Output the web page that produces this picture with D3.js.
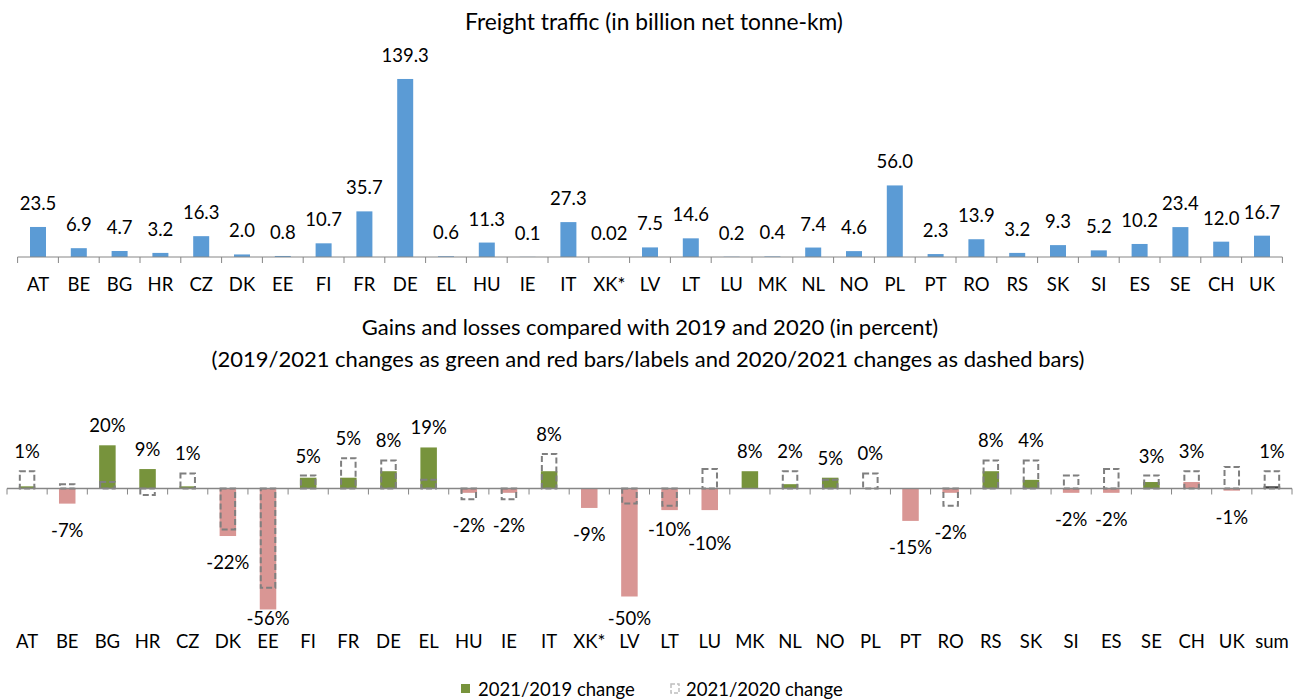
<!DOCTYPE html>
<html><head><meta charset="utf-8">
<script src="https://cdn.jsdelivr.net/npm/d3@7"></script>
<style>body{margin:0;background:#fff}svg{display:block}text{font-family:Lato,"Liberation Sans",sans-serif;fill:#000}</style>
</head><body><svg id="c" width="1296" height="700"></svg>
<script>
const countries = ["AT","BE","BG","HR","CZ","DK","EE","FI","FR","DE","EL","HU","IE","IT","XK*","LV","LT","LU","MK","NL","NO","PL","PT","RO","RS","SK","SI","ES","SE","CH","UK"];
const freight = [23.5,6.9,4.7,3.2,16.3,2.0,0.8,10.7,35.7,139.3,0.6,11.3,0.1,27.3,0.02,7.5,14.6,0.2,0.4,7.4,4.6,56.0,2.3,13.9,3.2,9.3,5.2,10.2,23.4,12.0,16.7];
const changeCats = countries.concat(["sum"]);
const change2019 = [1,-7,20,9,1,-22,-56,5,5,8,19,-2,-2,8,-9,-50,-10,-10,8,2,5,0,-15,-2,8,4,-2,-2,3,3,-1,1];
const change2020 = [8,2,3,-3,7,-19,-46,6,14,13,4,-5,-5,16,null,-7,-8,9,null,8,4,7,null,-8,13,13,6,9,6,8,10,8];
const title1 = "Freight traffic (in billion net tonne-km)";
const title2a = "Gains and losses compared with 2019 and 2020 (in percent)";
const title2b = "(2019/2021 changes as green and red bars/labels and 2020/2021 changes as dashed bars)";
const legendLabels = ["2021/2019 change","2021/2020 change"];

const svg = d3.select("#c");
const FS = 18.5, TFS = 22;
const axisCol = "#868686";

// ---------- Top chart ----------
const x1 = d3.scaleBand().domain(countries).range([17.6,1282.4]).padding(0);
const y1 = d3.scaleLinear().domain([0,150]).range([257,257-150*1.278]);
const bw1 = 16;
const g1 = svg.append("g");
g1.append("text").attr("x",654).attr("y",30).attr("text-anchor","middle").style("font-size",(TFS+0.8)+"px").text(title1);
g1.selectAll("rect.f").data(freight).join("rect").attr("class","f")
  .attr("x",(d,i)=>x1(countries[i])+x1.bandwidth()/2-bw1/2)
  .attr("width",bw1)
  .attr("y",d=>y1(d)).attr("height",d=>y1(0)-y1(d))
  .attr("fill","#5b9bd5");
g1.selectAll("text.v").data(freight).join("text").attr("class","v")
  .attr("x",(d,i)=>x1(countries[i])+x1.bandwidth()/2)
  .attr("y",d=>y1(d)-17).attr("text-anchor","middle").style("font-size",FS+"px")
  .text(d=>d<0.1?d.toFixed(2):d.toFixed(1));
const ax1 = d3.axisBottom(x1).tickSize(0).tickPadding(0);
const a1 = g1.append("g").attr("transform","translate(0,257)").call(ax1);
a1.select(".domain").attr("stroke",axisCol).attr("d","M17.6,0H1282.4");
a1.selectAll(".tick text").attr("dy",null).attr("y",34).style("font-size",FS+"px").style("font-family","Lato");
a1.selectAll(".tick line").remove();
a1.selectAll("line.b").data(d3.range(countries.length+1)).join("line").attr("class","b")
  .attr("x1",i=>x1.range()[0]+i*x1.step()).attr("x2",i=>x1.range()[0]+i*x1.step())
  .attr("y1",0).attr("y2",6).attr("stroke",axisCol);

// ---------- Bottom chart ----------
const x2 = d3.scaleBand().domain(changeCats).range([7,1292]).padding(0);
const y2 = d3.scaleLinear().domain([-60,25]).range([488.5+60*2.16,488.5-25*2.16]);
const bw2 = 16.5;
const g2 = svg.append("g");
g2.append("text").attr("x",650).attr("y",335).attr("text-anchor","middle").style("font-size",TFS+"px").text(title2a);
g2.append("text").attr("x",648).attr("y",367).attr("text-anchor","middle").style("font-size",TFS+"px").text(title2b);
const cx2 = c => x2(c)+x2.bandwidth()/2;
g2.selectAll("rect.c").data(change2019).join("rect").attr("class","c")
  .attr("x",(d,i)=>cx2(changeCats[i])-bw2/2).attr("width",bw2)
  .attr("y",d=>y2(Math.max(0,d))).attr("height",d=>Math.abs(y2(d)-y2(0)))
  .attr("fill",(d,i)=>changeCats[i]==="sum"?"#262626":(d<0||changeCats[i]==="CH")?"#d99694":"#77933c");
const dd = change2020.map((d,i)=>({d,c:changeCats[i]})).filter(o=>o.d!==null);
g2.selectAll("rect.d").data(dd).join("rect").attr("class","d")
  .attr("x",o=>cx2(o.c)-bw2/2+1).attr("width",bw2-2)
  .attr("y",o=>y2(Math.max(0,o.d))).attr("height",o=>Math.abs(y2(o.d)-y2(0)))
  .attr("fill","none").attr("stroke","#7f7f7f").attr("stroke-width",2).attr("stroke-dasharray","6,3");
const ax2 = d3.axisBottom(x2).tickSize(0).tickPadding(0);
const a2 = g2.append("g").attr("transform","translate(0,488.5)").call(ax2);
a2.select(".domain").attr("stroke",axisCol).attr("stroke-width",1.5).attr("d","M7,0H1292");
a2.selectAll(".tick text").attr("dy",null).attr("y",159).style("font-size",FS+"px").style("font-family","Lato");
a2.selectAll(".tick line").remove();
a2.selectAll("line.b").data(d3.range(changeCats.length+1)).join("line").attr("class","b")
  .attr("x1",i=>x2.range()[0]+i*x2.step()).attr("x2",i=>x2.range()[0]+i*x2.step())
  .attr("y1",0).attr("y2",6).attr("stroke",axisCol);
// label placement: above the taller of the two bars, below the deeper one; stagger wide neighbours
const labY = change2019.map((d,i)=>{
  const o = change2020[i]||0;
  return d>=0 ? y2(Math.max(d,o,0))-13 : Math.min(y2(Math.min(d,o,0))+33, 625);
});
for(let i=1;i<labY.length;i++){
  if(change2019[i]<0 && change2019[i-1]<0 && Math.abs(labY[i]-labY[i-1])<10 &&
     String(change2019[i]).length>=3 && String(change2019[i-1]).length>=3){
    labY[i-1] -= 7; labY[i] = labY[i-1]+14;
  }
}
g2.selectAll("text.p").data(change2019).join("text").attr("class","p")
  .attr("x",(d,i)=>cx2(changeCats[i]))
  .attr("y",(d,i)=>labY[i])
  .attr("text-anchor","middle").style("font-size",FS+"px")
  .text(d=>d+"%");

// ---------- Legend ----------
const lg = svg.append("g");
lg.append("rect").attr("x",461).attr("y",684).attr("width",9).attr("height",9).attr("fill","#77933c");
lg.append("text").attr("x",478).attr("y",696).style("font-size",FS+"px").text(legendLabels[0]);
lg.append("rect").attr("x",671).attr("y",684).attr("width",8).attr("height",9).attr("fill","none")
  .attr("stroke","#bfbfbf").attr("stroke-width",1.5).attr("stroke-dasharray","4,2");
lg.append("text").attr("x",686).attr("y",696).style("font-size",FS+"px").text(legendLabels[1]);
</script></body></html>
